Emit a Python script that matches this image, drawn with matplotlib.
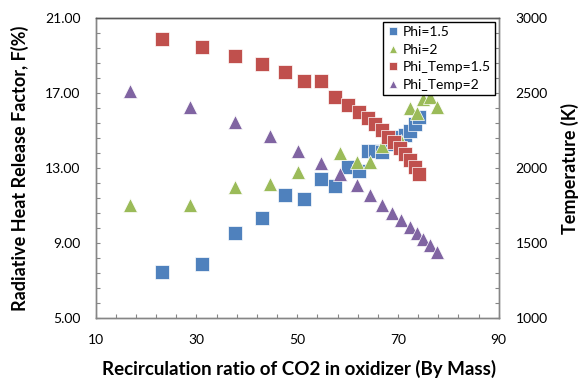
import matplotlib
matplotlib.use("Agg")
import matplotlib.pyplot as plt
import numpy as np
from matplotlib.ticker import FixedLocator, FormatStrFormatter
from matplotlib.lines import Line2D

plt.rcParams['font.family'] = ['Lato', 'DejaVu Sans']

# ---- data ----
x_phi15 = [23.2, 31.2, 37.6, 43.0, 47.6, 51.4, 54.7, 57.5, 60.0, 62.3,
           64.1, 65.4, 66.8, 68.1, 69.2, 70.4, 71.4, 72.4, 73.4, 74.2]
f_phi15 = [7.43, 7.85, 9.51, 10.34, 11.54, 11.36, 12.41, 12.05, 13.07, 12.85,
           13.90, 13.90, 13.85, 14.30, 14.50, 14.65, 14.75, 15.00, 15.35, 15.75]
t_phi15 = [2860, 2806, 2748, 2695, 2641, 2583, 2583, 2476, 2420, 2375,
           2335, 2295, 2254, 2210, 2176, 2132, 2093, 2053, 2009, 1960]

x_phi2_f = [16.8, 28.7, 37.6, 44.6, 50.2, 58.5, 61.8, 64.5, 66.8, 70.7,
            72.4, 73.7, 75.0, 76.4, 77.7]
f_phi2 = [11.02, 11.02, 11.97, 12.13, 12.80, 13.79, 13.34, 13.34, 14.17, 14.45,
          16.20, 15.92, 16.70, 16.80, 16.28]

x_phi2_t = [16.8, 28.7, 37.6, 44.6, 50.2, 54.7, 58.5, 61.8, 64.5, 66.8,
            68.9, 70.7, 72.4, 73.7, 75.0, 76.4, 77.7]
t_phi2 = [2516, 2410, 2309, 2214, 2116, 2031, 1960, 1886, 1820, 1753,
          1699, 1653, 1608, 1568, 1524, 1486, 1441]

labels = ['Phi=1.5', 'Phi=2', 'Phi_Temp=1.5', 'Phi_Temp=2']
colors = ['#4F81BD', '#9BBB59', '#C0504D', '#8064A2']

x_major = [10, 30, 50, 70, 90]
f_major = [5, 9, 13, 17, 21]
t_major = [1000, 1500, 2000, 2500, 3000]

fig = plt.figure(figsize=(5.87, 3.81), dpi=100)
ax = fig.add_axes([0.163, 0.1661, 0.6866, 0.7859])
ax2 = ax.twinx()

ms = 9.6
ax.plot(x_phi15, f_phi15, ls='none', marker='s', ms=ms, color=colors[0], mec='white', mew=0.5)
ax.plot(x_phi2_f, f_phi2, ls='none', marker='^', ms=ms, color=colors[1], mec='white', mew=0.5)
ax2.plot(x_phi15, t_phi15, ls='none', marker='s', ms=ms, color=colors[2], mec='white', mew=0.5)
ax2.plot(x_phi2_t, t_phi2, ls='none', marker='^', ms=ms, color=colors[3], mec='white', mew=0.5)

ax.set_xlim(10, 90)
ax.set_ylim(5, 21)
ax2.set_ylim(1000, 3000)

ax.xaxis.set_major_locator(FixedLocator(x_major))
ax.xaxis.set_minor_locator(FixedLocator(np.arange(10, 90.1, 4)))
ax.yaxis.set_major_locator(FixedLocator(f_major))
ax.yaxis.set_minor_locator(FixedLocator(np.arange(5, 21.01, 0.8)))
ax.yaxis.set_major_formatter(FormatStrFormatter('%.2f'))
ax2.yaxis.set_major_locator(FixedLocator(t_major))
ax2.yaxis.set_minor_locator(FixedLocator(np.arange(1000, 3001, 100)))

for a in (ax, ax2):
    a.tick_params(which='both', direction='in', length=3, width=0.8, color='#868686',
                  labelsize=10, labelcolor='black')
    for s in a.spines.values():
        s.set_color('#868686')
        s.set_linewidth(1.0)
    a.spines['top'].set_color('#595959')
ax.tick_params(axis='x', pad=12)
ax.tick_params(axis='y', pad=11)
ax2.tick_params(axis='y', pad=12)

ax.set_xlabel('Recirculation ratio of CO2 in oxidizer (By Mass)', fontsize=13.5, fontweight='bold')
ax.set_ylabel('Radiative Heat Release Factor, F(%)', fontsize=13, fontweight='bold')
ax2.set_ylabel('Temperature (K)', fontsize=13, fontweight='bold')
ax.xaxis.set_label_coords(0.504, -0.171)
ax.xaxis.label.set_va('center')
ax.yaxis.set_label_coords(-0.187, 0.5)
ax.yaxis.label.set_va('center')
ax2.yaxis.set_label_coords(1.177, 0.5)
ax2.yaxis.label.set_va('center')

markers = ['s', '^', 's', '^']
handles = [Line2D([], [], ls='none', marker=m, ms=ms, color=c, mec='white', mew=0.5)
           for m, c in zip(markers, colors)]
leg = ax2.legend(handles, labels, loc='upper right', bbox_to_anchor=(0.991, 0.988),
                 fontsize=10, frameon=True, fancybox=False, framealpha=1,
                 edgecolor='black', markerscale=0.65, handlelength=0.8,
                 handletextpad=0.3, borderpad=0.3, labelspacing=0.4, borderaxespad=0)
leg.get_frame().set_linewidth(1.0)

fig.savefig('out.png', dpi=100)
